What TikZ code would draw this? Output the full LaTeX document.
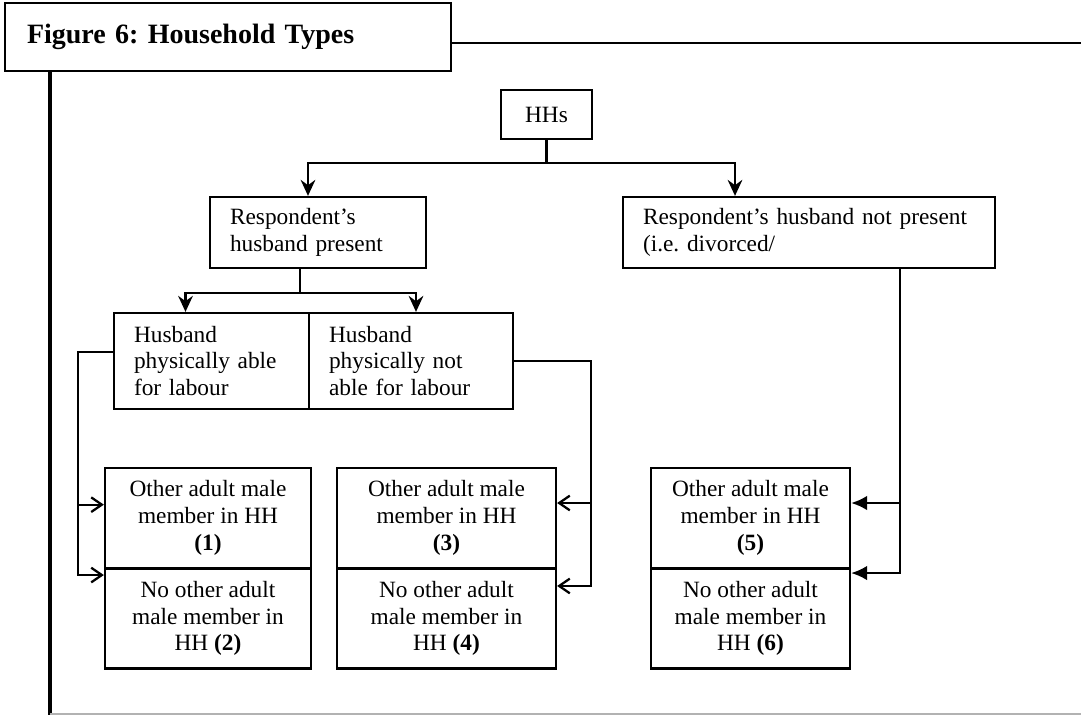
\documentclass[tikz,border=0pt]{standalone}
\usepackage{fontspec}
\setmainfont{Liberation Serif}
\usetikzlibrary{arrows.meta}
\frenchspacing

\begin{document}
\begin{tikzpicture}[x=0.75pt,y=-0.75pt]
\tikzstyle{every node}=[inner sep=0pt, rectangle, font=\fontsize{17.5}{20}\selectfont]
\tikzstyle{box}=[draw, line width=1.7pt]
\tikzstyle{lbox}=[box, inner xsep=15pt, align=left]
\tikzstyle{cbox}=[box, align=center, minimum height=75pt]
\tikzstyle{link}=[line width=1.7pt]
\tikzstyle{down}=[link, -{Stealth[length=12pt,width=11pt,inset=4pt]}]
\tikzstyle{tobox}=[link, -{Straight Barb[length=8pt,width=11pt]}]
\tikzstyle{fillbox}=[link, -{Latex[length=12pt,width=11pt]}]
\useasboundingbox (0,0) rectangle (1081,715);
% frame
\node[box, line width=2.2pt, minimum width=334.5pt, minimum height=51pt, text width=301.5pt, inner xsep=16.5pt, align=left, font=\fontsize{21}{24}\selectfont\bfseries] (title) at (228,37) {Figure 6: Household Types};
\draw[line width=2.2pt] ([yshift=-4.5pt]title.east) -- (1081,43);
\draw[line width=2.4pt] (50,71) -- (50,715);
\draw[gray!60, line width=1.5pt] (50,714) -- (1081,714);
% boxes
\node[box, minimum width=68.25pt, minimum height=36.75pt] (hh) at (546.5,114.5) {HHs};
\node[lbox, text width=132pt, minimum height=53.25pt] (pres) at (318,232.5) {Respondent's\\husband present};
\node[lbox, text width=249pt, minimum height=53.25pt] (notpres) at (809,232.5) {Respondent's husband not present\\(i.e. divorced/};
\node[lbox, text width=116.25pt, minimum height=72pt] (able) at (211.5,361) {Husband\\physically able\\for labour};
\node[lbox, text width=123pt, minimum height=72pt] (notable) at (411,361) {Husband\\physically not\\able for labour};
\node[cbox, minimum width=154.5pt] (b1) at (208,518) {Other adult male\\member in HH\\\textbf{(1)}};
\node[cbox, minimum width=154.5pt] (b2) at (208,618.5) {No other adult\\male member in\\HH \textbf{(2)}};
\node[cbox, minimum width=164.25pt] (b3) at (446.5,518) {Other adult male\\member in HH\\\textbf{(3)}};
\node[cbox, minimum width=164.25pt] (b4) at (446.5,618.5) {No other adult\\male member in\\HH \textbf{(4)}};
\node[cbox, minimum width=149.25pt] (b5) at (750.5,518) {Other adult male\\member in HH\\\textbf{(5)}};
\node[cbox, minimum width=149.25pt] (b6) at (750.5,618.5) {No other adult\\male member in\\HH \textbf{(6)}};
% links
\draw[down] (hh.south) -- ++(0,23) -| ([xshift=-7.5pt]pres.north);
\draw[down] (hh.south) -- ++(0,23) -| ([xshift=-55.5pt]notpres.north);
\draw[down] ([xshift=-13.5pt]pres.south) -- ++(0,24) -| ([xshift=-19.5pt]able.north);
\draw[down] ([xshift=-13.5pt]pres.south) -- ++(0,24) -| ([xshift=3.75pt]notable.north);
\draw[tobox] ([yshift=6.75pt]able.west) -- ++(-35,0) |- ([yshift=10pt]b1.west);
\draw[tobox] ([yshift=6.75pt]able.west) -- ++(-35,0) |- ([yshift=32.6pt]b2.west);
\draw[tobox] (notable.east) -- ++(77,0) |- ([yshift=11.25pt]b3.east);
\draw[tobox] (notable.east) -- ++(77,0) |- ([yshift=24.4pt]b4.east);
\draw[fillbox] ([xshift=68.25pt]notpres.south) |- ([yshift=11.25pt]b5.east);
\draw[fillbox] ([xshift=68.25pt]notpres.south) |- ([yshift=34.1pt]b6.east);
\end{tikzpicture}
\end{document}
